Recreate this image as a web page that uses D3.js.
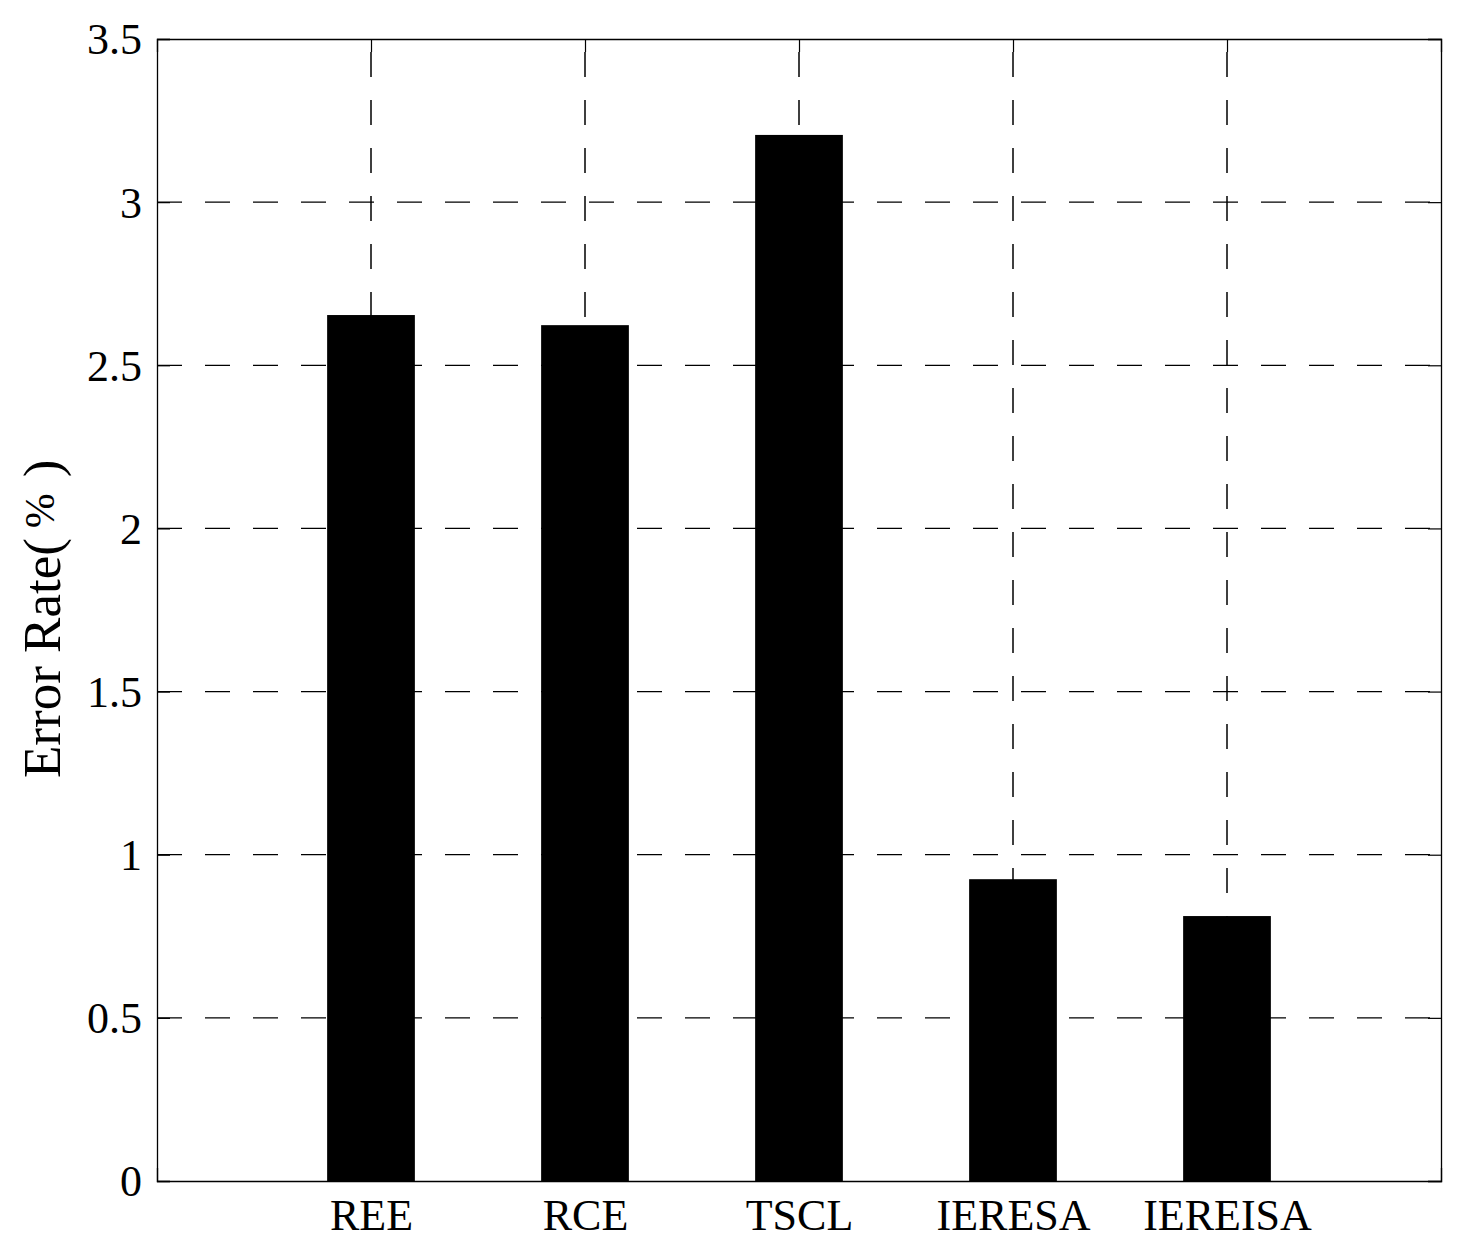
<!DOCTYPE html>
<html>
<head>
<meta charset="utf-8">
<script src="https://cdn.jsdelivr.net/npm/d3@7"></script>
<style>
  html, body { margin: 0; padding: 0; background: #fff; }
  svg { display: block; }
  text { font-family: "Liberation Serif", "Times New Roman", serif; fill: #000; }
</style>
</head>
<body>
<svg id="chart" width="1471" height="1257"></svg>
<script>
const categories = ["REE", "RCE", "TSCL", "IERESA", "IEREISA"];
const values = [2.654, 2.623, 3.206, 0.925, 0.812];
const yTicks = [0, 0.5, 1, 1.5, 2, 2.5, 3, 3.5];
const yTickLabels = ["0", "0.5", "1", "1.5", "2", "2.5", "3", "3.5"];
const yLabelParts = ["Error Rate(", "%", ")"];

const svg = d3.select("#chart");
const mLeft = 157, mRight = 1441, mTop = 39, mBottom = 1181;
const tickLen = 13;

const x = d3.scaleLinear().domain([0, categories.length + 1]).range([mLeft, mRight]);
const y = d3.scaleLinear().domain([0, 3.5]).range([mBottom, mTop]);
const barW = 0.41 * (x(1) - x(0));
const xPos = categories.map((c, i) => i + 1);

// grid lines (behind bars)
const grid = svg.append("g").attr("stroke", "#000").attr("fill", "none");
grid.selectAll("line.h").data(yTicks.filter(t => t > 0 && t < 3.5)).enter().append("line")
  .attr("x1", mLeft).attr("x2", mRight)
  .attr("y1", d => y(d)).attr("y2", d => y(d))
  .attr("stroke-width", 1.2)
  .attr("stroke-dasharray", "25,23");
grid.selectAll("line.v").data(xPos).enter().append("line")
  .attr("x1", d => x(d)).attr("x2", d => x(d))
  .attr("y1", mBottom).attr("y2", mTop)
  .attr("stroke-width", 1.5)
  .attr("stroke-dasharray", "25,23");

// bars
svg.append("g").selectAll("rect").data(values).enter().append("rect")
  .attr("x", (d, i) => x(xPos[i]) - barW / 2)
  .attr("width", barW)
  .attr("y", d => y(d))
  .attr("height", d => y(0) - y(d))
  .attr("fill", "#000");

// axes with inward ticks
const yAxisL = d3.axisLeft(y).tickValues(yTicks).tickSize(-tickLen).tickPadding(15)
  .tickFormat((d, i) => yTickLabels[i]);
const gL = svg.append("g").attr("transform", `translate(${mLeft},0)`).call(yAxisL);
const yAxisR = d3.axisRight(y).tickValues(yTicks).tickSize(-tickLen).tickFormat("");
const gR = svg.append("g").attr("transform", `translate(${mRight},0)`).call(yAxisR);
const xAxisB = d3.axisBottom(x).tickValues(xPos).tickSize(-tickLen).tickPadding(17)
  .tickFormat((d, i) => categories[i]);
const gB = svg.append("g").attr("transform", `translate(0,${mBottom})`).call(xAxisB);
const xAxisT = d3.axisTop(x).tickValues(xPos).tickSize(-tickLen).tickFormat("");
const gT = svg.append("g").attr("transform", `translate(0,${mTop})`).call(xAxisT);

[gL, gR, gB, gT].forEach(g => {
  g.select(".domain").attr("stroke", "#000").attr("stroke-width", 1.3);
  g.selectAll(".tick line").attr("stroke", "#000").attr("stroke-width", 1.2);
  g.selectAll("text").attr("font-family", "Liberation Serif, Times New Roman, serif")
    .attr("font-size", 44).attr("fill", "#000");
});
gL.selectAll("text").attr("dy", "0.34em");
gB.selectAll("text").attr("dy", "0.72em");

// y-axis label
const lab = svg.append("text")
  .attr("transform", `translate(60,778) rotate(-90)`)
  .attr("text-anchor", "start")
  .attr("font-size", 53);
lab.append("tspan").text(yLabelParts[0]);
lab.append("tspan").attr("font-size", 42).attr("dx", 10).attr("dy", -6).text(yLabelParts[1]);
lab.append("tspan").attr("dx", 16).attr("dy", 6).text(yLabelParts[2]);
</script>
</body>
</html>
